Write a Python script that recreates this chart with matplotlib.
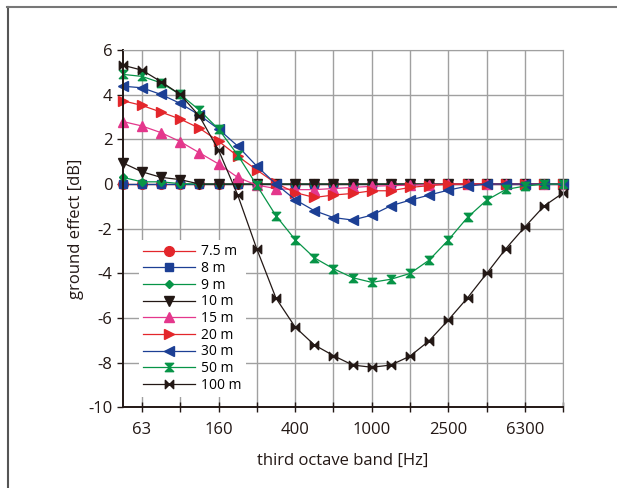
import matplotlib
matplotlib.use('Agg')
import matplotlib.pyplot as plt
import numpy as np
from matplotlib.path import Path
from matplotlib.lines import Line2D

plt.rcParams['font.family'] = ['Open Sans', 'DejaVu Sans']
plt.rcParams['axes.unicode_minus'] = False

bands = ['50', '63', '80', '100', '125', '160', '200', '250', '315', '400', '500', '630',
         '800', '1000', '1250', '1600', '2000', '2500', '3150', '4000', '5000', '6300',
         '8000', '10000']

g_7_5 = [0.0] * 24
g_8 = [0.0] * 24
g_9 = [0.3, 0.1, 0.1, 0.02] + [0.0] * 20
g_10 = [0.95, 0.55, 0.3, 0.2] + [0.0] * 20
g_15 = [2.8, 2.6, 2.3, 1.9, 1.4, 0.9, 0.3, -0.05, -0.2, -0.25, -0.25, -0.2, -0.15,
        -0.1, -0.07, -0.05, -0.02, 0.0, 0.0, 0.0, 0.0, 0.0, 0.0, 0.0]
g_20 = [3.73, 3.52, 3.22, 2.91, 2.5, 1.92, 1.25, 0.63, 0.03, -0.38, -0.6, -0.49, -0.42,
        -0.3, -0.3, -0.15, -0.07, 0.0, 0.0, 0.0, 0.0, 0.0, 0.0, 0.0]
g_30 = [4.38, 4.31, 4.01, 3.61, 3.09, 2.46, 1.7, 0.8, 0.0, -0.7, -1.19, -1.5, -1.61,
        -1.39, -0.97, -0.72, -0.49, -0.27, -0.09, 0.0, 0.0, 0.0, 0.0, 0.0]
g_50 = [4.91, 4.82, 4.53, 4.01, 3.31, 2.46, 1.3, -0.06, -1.42, -2.49, -3.3, -3.79, -4.19,
        -4.4, -4.26, -4.0, -3.4, -2.5, -1.49, -0.72, -0.24, -0.09, 0.0, 0.0]
g_100 = [5.32, 5.1, 4.58, 4.01, 3.04, 1.52, -0.49, -2.91, -5.11, -6.4, -7.2, -7.68, -8.1,
         -8.2, -8.1, -7.7, -7.01, -6.08, -5.09, -4.0, -2.89, -1.91, -0.98, -0.39]

red = '#e3262b'
blue = '#1c3f94'
green = '#079447'
black = '#231815'
pink = '#e4378c'

hourglass = Path([(-1, 1), (1, 1), (-1, -1), (1, -1), (-1, 1)],
                 [Path.MOVETO, Path.LINETO, Path.LINETO, Path.LINETO, Path.CLOSEPOLY])
bowtie = Path([(-1, 1), (-1, -1), (1, 1), (1, -1), (-1, 1)],
              [Path.MOVETO, Path.LINETO, Path.LINETO, Path.LINETO, Path.CLOSEPOLY])

series = [
    ('7.5 m', g_7_5, red, 'o', 7),
    ('8 m', g_8, blue, 's', 5.5),
    ('9 m', g_9, green, 'D', 4.5),
    ('10 m', g_10, black, 'v', 7),
    ('15 m', g_15, pink, '^', 7),
    ('20 m', g_20, red, '>', 6.5),
    ('30 m', g_30, blue, '<', 6.5),
    ('50 m', g_50, green, hourglass, 6),
    ('100 m', g_100, black, bowtie, 6),
]

fig = plt.figure(figsize=(6.17, 4.88), dpi=100)
ax = fig.add_axes([0.199, 0.165, 0.714, 0.7325])

x = np.arange(len(bands))
for label, vals, col, mk, ms in series:
    ax.plot(x, vals, color=col, marker=mk, markersize=ms, linewidth=0.9,
            markeredgecolor=col, markerfacecolor=col, label=label, clip_on=False)

ax.set_xlim(0, len(bands) - 1)
ax.set_ylim(-10, 6)
ax.set_yticks(np.arange(-10, 7, 2))
tick_pos = x[1::2]
ax.set_xticks(tick_pos)
ax.set_xticklabels([bands[i] if (i - 1) % 4 == 0 else '' for i in tick_pos])

ax.grid(True, color='#a0a0a0', linewidth=1.0)
ax.set_axisbelow(True)
for s in ['top', 'right']:
    ax.spines[s].set_color('#a0a0a0')
for s in ['left', 'bottom']:
    ax.spines[s].set_color(black)
    ax.spines[s].set_linewidth(1.4)

ax.tick_params(axis='both', labelsize=12, colors=black, labelcolor='#231815')
ax.tick_params(axis='x', direction='inout', length=7, width=1, pad=7)
ax.tick_params(axis='y', direction='out', length=4, width=1)

ax.set_xlabel('third octave band [Hz]', fontsize=12, color=black, labelpad=11)
ax.set_ylabel('ground effect [dB]', fontsize=12, color=black, labelpad=3)

leg = ax.legend(loc='lower left', bbox_to_anchor=(0.02, 0.01), frameon=True,
                fontsize=10, handlelength=3.8, labelspacing=0.12, borderpad=0.3,
                handletextpad=0.4)
leg.get_frame().set_edgecolor('none')
leg.get_frame().set_facecolor('white')
leg.get_frame().set_alpha(1)

fig.add_artist(Line2D([0.013, 0.013], [0, 0.986], transform=fig.transFigure,
                      color='#555555', linewidth=1.5))
fig.add_artist(Line2D([0.012, 1.0], [0.986, 0.986], transform=fig.transFigure,
                      color='#777777', linewidth=1.5))

fig.savefig('out.png', dpi=100)
